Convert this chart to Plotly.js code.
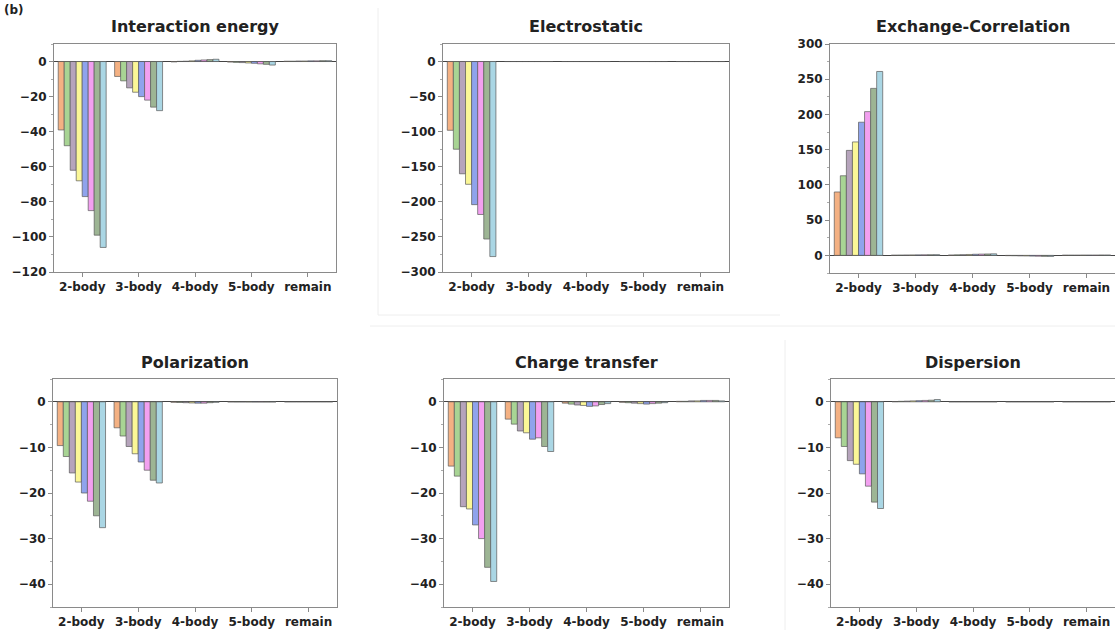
<!DOCTYPE html>
<html>
<head>
<meta charset="utf-8">
<script src="https://cdn.plot.ly/plotly-3.0.1.min.js"></script>
<style>
  html, body { margin: 0; padding: 0; background: #fff; }
  #chart { width: 1115px; height: 630px; }
</style>
</head>
<body>
<div id="chart"></div>
<script>
// Categories (x axis)
const categories = ["2-body", "3-body", "4-body", "5-body", "remain"];

// Series colours (8 bars per group)
const seriesColors = ["#f4b183", "#a8d494", "#b6a4bc", "#fbf797", "#8fa3ec", "#f2a0f0", "#9db594", "#aad6e4"];

// Panel titles
const panelTitles = ["Interaction energy", "Electrostatic", "Exchange-Correlation", "Polarization", "Charge transfer", "Dispersion"];

// Values: each row is one series across the 5 categories
const interaction = [
  [-39, -8.5, -0.2, -0.3, 0.2],
  [-48, -11, 0.1, -0.5, 0.2],
  [-62, -15, 0.2, -0.6, 0.3],
  [-68, -17.5, 0.4, -0.8, 0.3],
  [-77, -20, 0.7, -1.0, 0.4],
  [-85, -22, 0.9, -1.3, 0.4],
  [-99, -26, 1.1, -1.6, 0.5],
  [-106, -28, 1.3, -2.0, 0.5]
];
const electrostatic = [
  [-98, 0, 0, 0, 0],
  [-125, 0, 0, 0, 0],
  [-160, 0, 0, 0, 0],
  [-175, 0, 0, 0, 0],
  [-204, 0, 0, 0, 0],
  [-218, 0, 0, 0, 0],
  [-253, 0, 0, 0, 0],
  [-278, 0, 0, 0, 0]
];
const exchangeCorrelation = [
  [90, 0.3, 0.5, -0.4, 0.3],
  [113, 0.4, 0.8, -0.5, 0.3],
  [149, 0.5, 1.0, -0.7, 0.3],
  [161, 0.6, 1.3, -0.8, 0.4],
  [189, 0.7, 1.6, -1.0, 0.4],
  [204, 0.8, 1.8, -1.2, 0.4],
  [237, 0.9, 2.0, -1.4, 0.5],
  [261, 1.0, 2.2, -1.5, 0.5]
];
const polarization = [
  [-9.6, -5.7, -0.1, -0.02, 0],
  [-12, -7.5, -0.15, -0.03, 0],
  [-15.6, -9.8, -0.2, -0.03, 0],
  [-17.6, -11.4, -0.25, -0.04, 0],
  [-20, -13.2, -0.3, -0.05, 0],
  [-21.8, -15, -0.3, -0.05, 0],
  [-25, -17.2, -0.2, -0.05, 0],
  [-27.6, -17.8, -0.1, -0.04, 0]
];
const chargeTransfer = [
  [-14.1, -3.8, -0.3, -0.1, 0.1],
  [-16.3, -4.9, -0.5, -0.2, 0.1],
  [-23, -6.4, -0.7, -0.3, 0.2],
  [-23.5, -6.8, -0.8, -0.4, 0.2],
  [-27, -8.2, -1.0, -0.5, 0.3],
  [-30, -7.9, -0.9, -0.4, 0.3],
  [-36.3, -9.8, -0.6, -0.3, 0.3],
  [-39.4, -10.9, -0.4, -0.2, 0.2]
];
const dispersion = [
  [-7.9, 0.05, 0, 0, 0],
  [-9.8, 0.1, 0, 0, 0],
  [-12.9, 0.15, 0, 0, 0],
  [-13.7, 0.2, 0, 0, 0],
  [-15.8, 0.25, 0, 0, 0],
  [-18.5, 0.3, 0, 0, 0],
  [-22, 0.35, 0, 0, 0],
  [-23.4, 0.5, 0, 0, 0]
];

const panelData = [interaction, electrostatic, exchangeCorrelation, polarization, chargeTransfer, dispersion];

// ---- layout geometry (pixels) ----
const W = 1115, H = 630;
const panelBoxes = [
  {x0: 54, x1: 336, y0: 44, y1: 272, range: [-120, 10], dtick: 20, minor: 10},
  {x0: 443, x1: 729, y0: 44, y1: 272, range: [-300, 25], dtick: 50, minor: 25},
  {x0: 830, x1: 1115, y0: 44, y1: 273, range: [-25, 300], dtick: 50, minor: 25},
  {x0: 53, x1: 337, y0: 379, y1: 607, range: [-45, 5], dtick: 10, minor: 5},
  {x0: 444, x1: 729, y0: 379, y1: 607, range: [-45, 5], dtick: 10, minor: 5},
  {x0: 831, x1: 1115, y0: 379, y1: 607, range: [-45, 5], dtick: 10, minor: 5}
];

const fontFam = "DejaVu Sans, Liberation Sans, Arial, sans-serif";
const traces = [];
const layout = {
  width: W, height: H,
  margin: {l: 0, r: 0, t: 0, b: 0},
  paper_bgcolor: "#ffffff",
  plot_bgcolor: "#ffffff",
  showlegend: false,
  barmode: "group",
  bargap: 0.15,
  bargroupgap: 0,
  font: {family: fontFam, color: "#222"},
  annotations: [],
  shapes: []
};

panelBoxes.forEach((b, p) => {
  const idx = p === 0 ? "" : String(p + 1);
  const xa = "x" + idx, ya = "y" + idx;
  panelData[p].forEach((row, s) => {
    traces.push({
      type: "bar",
      x: categories,
      y: row,
      xaxis: xa, yaxis: ya,
      marker: {color: seriesColors[s], line: {color: "#5a5a5a", width: 0.7}},
      hoverinfo: "y"
    });
  });
  layout["xaxis" + idx] = {
    domain: [b.x0 / W, b.x1 / W],
    anchor: ya,
    type: "category",
    showline: true, mirror: true, linecolor: "#8a8a8a", linewidth: 1,
    ticks: "outside", ticklen: 4, tickcolor: "#8a8a8a",
    showgrid: false, zeroline: false, fixedrange: true,
    tickfont: {family: fontFam, size: 12, weight: "bold", color: "#222"}
  };
  layout["yaxis" + idx] = {
    domain: [1 - b.y1 / H, 1 - b.y0 / H],
    anchor: xa,
    range: b.range,
    dtick: b.dtick, tick0: 0,
    showline: true, mirror: true, linecolor: "#8a8a8a", linewidth: 1,
    ticks: "outside", ticklen: 4, tickcolor: "#8a8a8a",
    minor: {dtick: b.minor, tick0: 0, ticks: "outside", ticklen: 2, tickcolor: "#aaaaaa"},
    showgrid: false,
    zeroline: true, zerolinecolor: "#444444", zerolinewidth: 1,
    fixedrange: true,
    tickfont: {family: fontFam, size: 12, weight: "bold", color: "#222"}
  };
  const titleY = p < 3 ? 27 : 362;
  layout.annotations.push({
    text: panelTitles[p],
    xref: "paper", yref: "paper",
    x: ((b.x0 + b.x1) / 2) / W, y: 1 - titleY / H,
    xanchor: "center", yanchor: "middle",
    showarrow: false,
    font: {family: fontFam, size: 16, weight: "bold", color: "#222"}
  });
});

// Panel label in the top-left corner
layout.annotations.push({
  text: "(b)",
  xref: "paper", yref: "paper",
  x: 2 / W, y: 1 - 1 / H,
  xanchor: "left", yanchor: "top",
  showarrow: false,
  font: {family: fontFam, size: 12, weight: "bold", color: "#222"}
});

// Faint panel frames from the source figure
const faint = {color: "#eeeeee", width: 1};
layout.shapes.push(
  {type: "line", xref: "paper", yref: "paper", x0: 378 / W, x1: 378 / W, y0: 1 - 315 / H, y1: 1 - 8 / H, line: faint},
  {type: "line", xref: "paper", yref: "paper", x0: 378 / W, x1: 780 / W, y0: 1 - 315 / H, y1: 1 - 315 / H, line: faint},
  {type: "line", xref: "paper", yref: "paper", x0: 785 / W, x1: 785 / W, y0: 0, y1: 1 - 340 / H, line: faint},
  {type: "line", xref: "paper", yref: "paper", x0: 370 / W, x1: 1115 / W, y0: 1 - 326 / H, y1: 1 - 326 / H, line: faint}
);

Plotly.newPlot("chart", traces, layout, {displayModeBar: false, staticPlot: true});
</script>
</body>
</html>
